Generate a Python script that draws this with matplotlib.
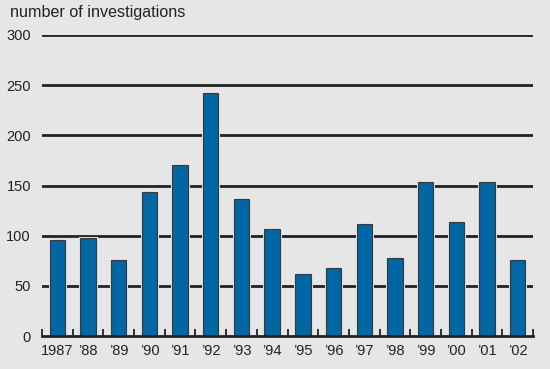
import numpy as np
from matplotlib import pyplot as plt

plt.rcParams['font.family'] = ['Liberation Sans', 'DejaVu Sans']

years = ['1987', '’88', '’89', '’90', '’91', '’92', '’93', '’94',
         '’95', '’96', '’97', '’98', '’99', '’00', '’01', '’02']
investigations = [96, 98, 76, 144, 170, 242, 137, 107,
                  62, 68, 112, 78, 153, 114, 153, 76]
yticks = [0, 50, 100, 150, 200, 250, 300]

bg = '#e6e6e6'
blue = '#0067a5'
ink = '#222222'

fig = plt.figure(figsize=(5.5, 3.69), dpi=100, facecolor=bg)
ax = fig.add_axes([42/550, 33/369, 491/550, 301/369])
ax.set_facecolor(bg)

x = np.arange(len(years))
# white halo, then the bar itself
ax.bar(x, investigations, width=0.5, color=blue, edgecolor='#f2f2f2', linewidth=2.2, zorder=3)
ax.bar(x, investigations, width=0.5, color=blue, edgecolor='#3a3a3a', linewidth=0.9, zorder=4)

for v in yticks[1:]:
    ax.axhline(v, color=ink, linewidth=2, zorder=2)

ax.set_xlim(-0.5, len(years) - 0.5)
ax.set_ylim(0, 300)
ax.set_yticks(yticks)
ax.set_yticklabels([str(v) for v in yticks])
ax.tick_params(axis='y', length=0, pad=8, labelsize=10.5, labelcolor=ink)

ax.set_xticks(x)
ax.set_xticklabels(years)
ax.tick_params(axis='x', which='major', length=0, pad=6, labelsize=10.5, labelcolor=ink)
ax.set_xticks(np.arange(len(years) + 1) - 0.5, minor=True)
ax.tick_params(axis='x', which='minor', direction='in', length=5, width=1.3, color=ink)

for s in ['top', 'right', 'left']:
    ax.spines[s].set_visible(False)
ax.spines['bottom'].set_color(ink)
ax.spines['bottom'].set_linewidth(2)
ax.spines['bottom'].set_zorder(5)

fig.text(10/550, 1 - 13/369, 'number of investigations', fontsize=11.6,
         color=ink, va='center', ha='left')

plt.savefig('out.png', dpi=100, facecolor=bg)
